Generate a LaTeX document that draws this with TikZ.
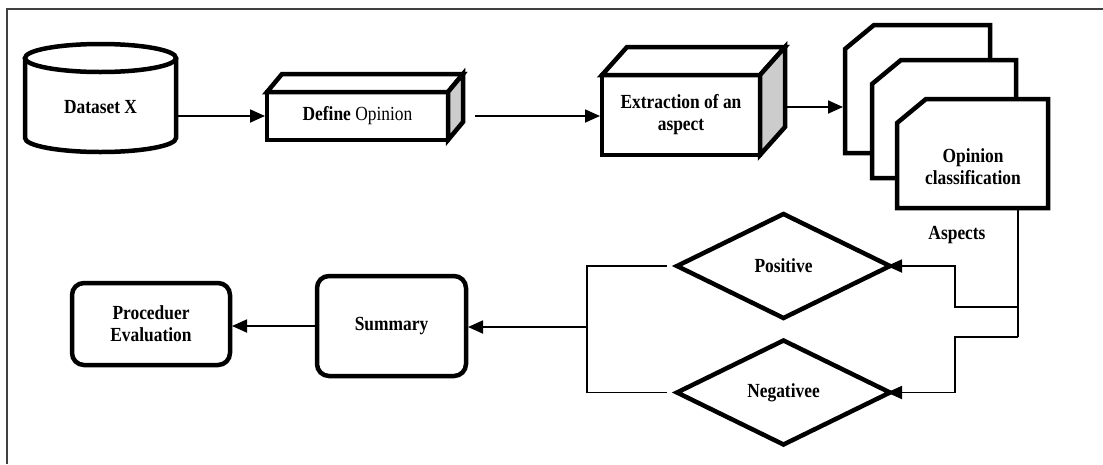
\documentclass[tikz,border=0pt]{standalone}
\usepackage{fontspec}
\setmainfont{Liberation Serif}[FakeStretch=0.87]
\usetikzlibrary{arrows.meta,shapes.geometric}
\begin{document}
\begin{tikzpicture}[x=1pt,y=-1pt,
  heavy/.style={line width=4.5pt, line join=miter, miter limit=10},
  link/.style={line width=1.8pt},
  thinlink/.style={line width=1.2pt},
  arr/.style={link, shorten >=2pt, -{Triangle[length=15pt,width=13pt]}},
  txt/.style={font=\fontsize{20}{22}\selectfont, align=center},
  lbl/.style={txt, font=\fontsize{20}{22}\selectfont\bfseries},
  ghost/.style={inner sep=0pt, outer sep=0pt},
  boxnode/.style={draw, heavy, fill=white, inner sep=0pt, outer sep=0pt},
  roundbox/.style={boxnode, rounded corners=12pt, lbl},
  dia/.style={diamond, draw, heavy, fill=white, inner sep=0pt, outer sep=0pt,
              minimum width=213pt, minimum height=104pt, lbl},
]
\useasboundingbox (0,0) rectangle (1103,464);

% frame
\draw[line width=1.5pt, black!75] (7,464) -- (7,9) -- (1103,9);

% Dataset cylinder
\draw[heavy, fill=white] (25,58) -- (25,138)
  arc[start angle=180, end angle=360, x radius=75.5pt, y radius=14pt] -- (176,58);
\draw[heavy, fill=white] (100.5,58) ellipse[x radius=75.5pt, y radius=14pt];
\node[lbl, ghost, minimum width=151pt, minimum height=60pt] (data) at (100.5,107) {Dataset X};

% Define Opinion box
\node[boxnode, txt, minimum width=181pt, minimum height=48pt] (def) at (357.5,116) {\textbf{Define} Opinion};
\draw[heavy, fill=white] (def.north west) -- ++(15,-18) -- ++(181,0) -- (def.north east) -- cycle;
\draw[heavy, fill=gray!40] (def.north east) -- ++(15,-18) -- ++(0,48) -- (def.south east) -- cycle;

% Extraction box
\node[boxnode, lbl, minimum width=158pt, minimum height=80pt] (ext) at (681,115) {Extraction of an\\aspect};
\draw[heavy, fill=white] (ext.north west) -- ++(25,-28) -- ++(158,0) -- (ext.north east) -- cycle;
\draw[heavy, fill=gray!40] (ext.north east) -- ++(25,-28) -- ++(0,80) -- (ext.south east) -- cycle;

% Opinion classification stack
\draw[heavy, fill=white] (845,49) -- (874,25) -- (990,25) -- (990,153) -- (845,153) -- cycle;
\draw[heavy, fill=white] (872,84) -- (901,60) -- (1016,60) -- (1016,178) -- (872,178) -- cycle;
\draw[heavy, fill=white] (897,123) -- (926,99) -- (1048,99) -- (1048,208) -- (897,208) -- cycle;
\node[ghost, minimum width=145pt, minimum height=128pt] (st1) at (917.5,89) {};
\node[ghost, minimum width=151pt, minimum height=109pt] (st3) at (972.5,153.5) {};
\node[lbl] (opc) at (973,167) {Opinion\\classification};
\node[lbl] (asp) at (957,235) {Aspects};

% Diamonds
\node[dia] (pos) at (783.5,266) {Positive};
\node[dia] (neg) at (783.5,392.5) {Negativee};

% Summary and evaluation
\node[roundbox, minimum width=149pt, minimum height=100pt] (sum) at (391.5,326) {Summary};
\node[roundbox, minimum width=158pt, minimum height=82pt] (proc) at (151,324) {Proceduer\\Evaluation};

% connectors
\draw[arr] (data.east |- def.west) -- (def.west);
\draw[arr] ([xshift=27pt]def.east) -- (ext.west |- def.east);
\coordinate (a3) at ([xshift=25pt,yshift=8pt]ext.east);
\draw[arr] (a3) -- (a3 -| st1.west);

\coordinate (vtop) at ([xshift=45.5pt]st3.south);
\coordinate (j1) at (1018,307);
\coordinate (j2) at (1018,337);
\draw[thinlink] (vtop) -- (j2);
\draw[arr, shorten >=-3pt] (j1) -- (955,307) -- (955,266) -- (pos.east);
\draw[arr, shorten >=-3pt] (j2) -- (955,337) -- (955,392.5) -- (neg.east);

\draw[link] ([xshift=-10pt]pos.west) -- (587,266) -- (587,392.5) -- ([xshift=-10pt]neg.west);
\coordinate (j3) at (587,327);
\draw[arr] (j3) -- (sum.east |- j3);
\draw[arr] (sum.west) -- (proc.east |- sum.west);
\end{tikzpicture}
\end{document}
